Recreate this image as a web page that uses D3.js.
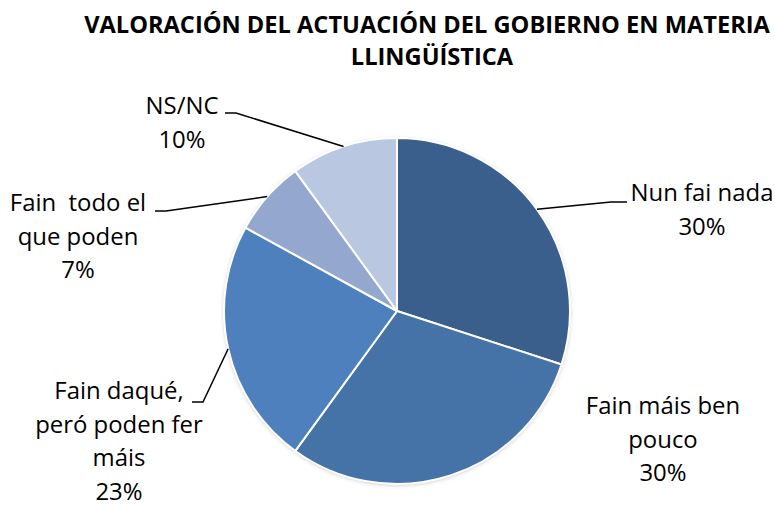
<!DOCTYPE html>
<html lang="gl">
<head>
  <meta charset="UTF-8">
  <title>Valoración del actuación del gobierno en materia llingüística</title>
  <script src="https://d3js.org/d3.v7.min.js"></script>
  <style>
    body {
      margin: 0;
      padding: 0;
      background: #fff;
      overflow: hidden;
    }
    svg text {
      font-family: "Open Sans", "Noto Sans", sans-serif;
      fill: #000;
      white-space: pre;
    }
  </style>
</head>
<body>
  <div id="chart"></div>

  <script>
    // categories, clockwise from 12 o'clock
    const categories = ["Nun fai nada", "Fain máis ben pouco", "Fain daqué, peró poden fer máis", "Fain  todo el que poden", "NS/NC"];
    const values = [30, 30, 23, 7, 10];
    // label text as broken into lines in the original
    const labelLines = [
      ["Nun fai nada"],
      ["Fain máis ben", "pouco"],
      ["Fain daqué,", "peró poden fer", "máis"],
      ["Fain  todo el", "que poden"],
      ["NS/NC"]
    ];
    const titleLines = ["VALORACIÓN DEL ACTUACIÓN DEL GOBIERNO EN MATERIA", "LLINGÜÍSTICA"];

    const colors = ["#3b5f8d", "#4573a7", "#4d80bc", "#94a8cf", "#b9c7e0"];

    const width = 775, height = 505;
    const cx = 397, cy = 311, radius = 173;
    const lineH = 33.5;

    // label layout: centre x, centre y of first line, and leader elbow (null = no leader)
    const labelLayout = [
      { x: 702, y: 195, elbow: [[627, 202], [611, 202]] },
      { x: 663, y: 408, elbow: null },
      { x: 119, y: 393, elbow: [[192, 402], [203, 402]] },
      { x: 78,  y: 205, elbow: [[155, 211], [166, 211]] },
      { x: 182, y: 108, elbow: [[225, 113], [236, 113]] }
    ];

    const svg = d3.select("#chart")
      .append("svg")
      .attr("width", width)
      .attr("height", height);

    const defs = svg.append("defs");
    const shadow = defs.append("filter")
      .attr("id", "shadow")
      .attr("x", "-10%").attr("y", "-10%")
      .attr("width", "120%").attr("height", "120%");
    shadow.append("feDropShadow")
      .attr("dx", 0).attr("dy", 1)
      .attr("stdDeviation", 2)
      .attr("flood-color", "#000")
      .attr("flood-opacity", 0.25);

    // title
    const title = svg.append("g").attr("class", "title");
    const t1 = title.append("text")
      .attr("x", 427).attr("y", 33)
      .attr("text-anchor", "middle")
      .attr("font-weight", "bold")
      .attr("font-size", 20)
      .text(titleLines[0]);
    const fit = 686 / t1.node().getComputedTextLength();
    t1.attr("font-size", 20 * fit);
    title.append("text")
      .attr("x", 432).attr("y", 65)
      .attr("text-anchor", "middle")
      .attr("font-weight", "bold")
      .attr("font-size", 20 * fit)
      .text(titleLines[1]);

    const pie = d3.pie().sort(null).value(d => d)(values);
    const arc = d3.arc().innerRadius(0).outerRadius(radius);

    const g = svg.append("g").attr("transform", `translate(${cx},${cy})`);

    g.append("circle")
      .attr("r", radius)
      .attr("fill", "#fff")
      .attr("filter", "url(#shadow)");

    g.selectAll("path.slice")
      .data(pie)
      .enter()
      .append("path")
      .attr("class", "slice")
      .attr("d", arc)
      .attr("fill", (d, i) => colors[i])
      .attr("stroke", "#fff")
      .attr("stroke-width", 2)
      .attr("stroke-linejoin", "round");

    // leader lines: from the arc edge at mid angle to the label elbow
    const edgePoint = d => {
      const a = (d.startAngle + d.endAngle) / 2;
      return [cx + radius * Math.sin(a), cy - radius * Math.cos(a)];
    };

    svg.selectAll("path.leader")
      .data(pie.filter((d, i) => labelLayout[i].elbow))
      .enter()
      .append("path")
      .attr("class", "leader")
      .attr("fill", "none")
      .attr("stroke", "#000")
      .attr("stroke-width", 1.5)
      .attr("d", d => d3.line()([...labelLayout[d.index].elbow, edgePoint(d)]));

    // measure label font so "Nun fai nada" matches the reference width
    const probe = svg.append("text").attr("font-size", 20).text(labelLines[0][0]);
    const labelSize = 20 * 143 / probe.node().getComputedTextLength();
    probe.remove();

    const fmt = d3.format(".0%");
    const labels = svg.selectAll("text.label")
      .data(pie)
      .enter()
      .append("text")
      .attr("class", "label")
      .attr("text-anchor", "middle")
      .attr("font-size", labelSize);

    labels.each(function(d, i) {
      const lines = labelLines[i].concat([fmt(values[i] / d3.sum(values))]);
      const sel = d3.select(this);
      lines.forEach((ln, j) => {
        sel.append("tspan")
          .attr("x", labelLayout[i].x)
          .attr("y", labelLayout[i].y + 6 + j * lineH)
          .text(ln);
      });
    });
  </script>
</body>
</html>
